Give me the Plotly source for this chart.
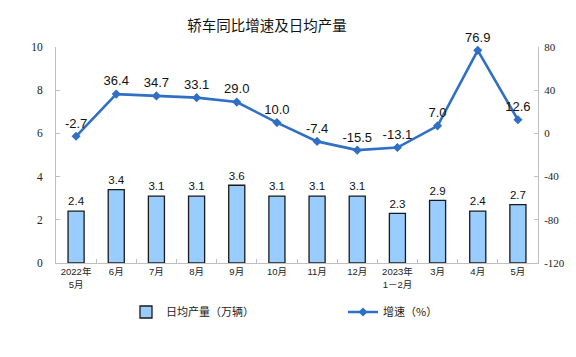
import plotly.graph_objects as go

categories = ["2022年<br>5月", "6月", "7月", "8月", "9月", "10月", "11月", "12月",
              "2023年<br>1－2月", "3月", "4月", "5月"]
daily_output = [2.4, 3.4, 3.1, 3.1, 3.6, 3.1, 3.1, 3.1, 2.3, 2.9, 2.4, 2.7]
growth = [-2.7, 36.4, 34.7, 33.1, 29.0, 10.0, -7.4, -15.5, -13.1, 7.0, 76.9, 12.6]
right_ticks = [-120, -80, -40, 0, 40, 80]
right_tick_labels = ["-120", "-80", "-40", "0", "40", "80"]

bar_name = "日均产量（万辆）"
line_name = "增速（%）"

line_color = "#2f6fc4"
axis_color = "#bfbfbf"

# the page body adds an 8px margin on every side; size the figure so nothing overflows
OFF = 8
W, H = 576 - 2*OFF, 357 - 2*OFF

fig = go.Figure()
fig.add_trace(go.Bar(
    x=categories, y=daily_output, name=bar_name,
    marker=dict(color="#99ccff", line=dict(color="#1a1a1a", width=1.3)),
    width=0.4,
    text=[f"{v:.1f}" for v in daily_output], textposition="outside",
    textfont=dict(family="Liberation Sans, Arial", size=13, color="#111"),
    cliponaxis=False,
    yaxis="y",
))
fig.add_trace(go.Scatter(
    x=categories, y=growth, name=line_name, mode="lines+markers+text",
    line=dict(color=line_color, width=2.6),
    marker=dict(symbol="diamond", size=7, color=line_color),
    text=[f"{v:.1f}" for v in growth], textposition="top center",
    textfont=dict(family="Liberation Sans, Arial", size=13, color="#111"),
    cliponaxis=False,
    yaxis="y2",
))

tick_font = dict(family="Liberation Serif, Times New Roman", size=11.5, color="#222")

plot_left, plot_right, plot_top, plot_bottom = 56, 538, 47, 263

fig.update_layout(
    width=W, height=H,
    margin=dict(l=plot_left - OFF, r=W + OFF - plot_right, t=plot_top - OFF,
                b=H + OFF - plot_bottom, autoexpand=False),
    plot_bgcolor="white", paper_bgcolor="white",
    showlegend=True,
    title=dict(text="轿车同比增速及日均产量", x=(267 - OFF)/W, xanchor="center",
               y=1-(26 - OFF)/H, yanchor="middle",
               font=dict(family="Noto Sans CJK SC", size=14.5, color="#111")),
    xaxis=dict(
        showline=True, linecolor=axis_color, linewidth=1,
        ticks="inside", ticklen=4, tickcolor=axis_color, tickson="boundaries",
        tickfont=dict(family="Liberation Sans, Noto Sans CJK SC", size=9.5, color="#222"),
        tickangle=0,
        showgrid=False, range=[-0.5, 11.5],
    ),
    yaxis=dict(
        range=[0, 10], dtick=2, showgrid=False, zeroline=False,
        showline=True, linecolor=axis_color, linewidth=1,
        ticks="inside", ticklen=4, tickcolor=axis_color,
        tickfont=tick_font, ticklabelstandoff=10,
    ),
    yaxis2=dict(
        range=[-120, 80], tickvals=right_ticks, ticktext=right_tick_labels,
        overlaying="y", side="right",
        showgrid=False, zeroline=False,
        showline=True, linecolor=axis_color, linewidth=1,
        ticks="inside", ticklen=4, tickcolor=axis_color,
        tickfont=dict(family="Liberation Serif, Times New Roman", size=11, color="#222"),
        ticklabelstandoff=3,
    ),
    legend=dict(
        orientation="h", x=(126-56)/482, xanchor="left", y=(263-312)/216, yanchor="middle",
        font=dict(family="Noto Sans CJK SC", size=11, color="#222"),
        entrywidth=172, entrywidthmode="pixels",
        bgcolor="rgba(0,0,0,0)",
    ),
    bargap=0.6,
)

fig.write_html("out.html")
